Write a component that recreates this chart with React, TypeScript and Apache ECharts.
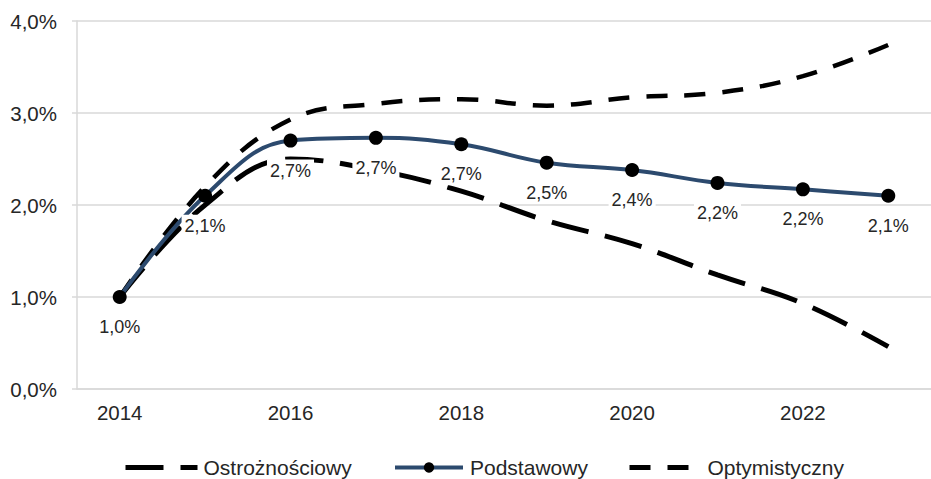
import React, { useEffect, useRef } from "react";
import * as echarts from "echarts";

// Years on the horizontal axis
const years = ["2014", "2015", "2016", "2017", "2018", "2019", "2020", "2021", "2022", "2023"];

// Scenario paths, in percent
const ostroznosciowy = [1.0, 2.0, 2.5, 2.38, 2.15, 1.83, 1.58, 1.24, 0.93, 0.46];
const podstawowy = [1.0, 2.1, 2.7, 2.73, 2.66, 2.46, 2.38, 2.24, 2.17, 2.1];
const optymistyczny = [1.0, 2.2, 2.93, 3.1, 3.15, 3.08, 3.17, 3.22, 3.4, 3.74];

const seriesNames = ["Ostrożnościowy", "Podstawowy", "Optymistyczny"];

const FONT = "'Liberation Sans', Arial, sans-serif";
const TEXT = "#262626";
const GRID_GRAY = "#d9d9d9";
const BASE_BLUE = "#2c4a6e";

const pct = (v: number) => v.toFixed(1).replace(".", ",") + "%";

const legendText = { fontFamily: FONT, fontSize: 21, color: TEXT };

export default function App() {
  const ref = useRef<HTMLDivElement>(null);

  useEffect(() => {
    document.body.style.margin = "0";
    if (!ref.current) return;
    const chart = echarts.init(ref.current, undefined, { renderer: "svg" });
    chart.setOption({
      animation: false,
      textStyle: { fontFamily: FONT, color: TEXT },
      grid: { left: 77, top: 21, width: 867, height: 368 },
      legend: [
        {
          data: [{ name: seriesNames[0], itemStyle: { opacity: 0 } }],
          top: 452,
          left: 118,
          itemWidth: 72,
          itemHeight: 14,
          lineStyle: { width: 5 },
          textStyle: { ...legendText, padding: [0, 0, 0, 1] },
        },
        {
          data: [{ name: seriesNames[1] }],
          top: 452,
          left: 388,
          itemWidth: 68,
          itemHeight: 13,
          lineStyle: { width: 4 },
          textStyle: { ...legendText, padding: [0, 0, 0, 2] },
        },
        {
          data: [{ name: seriesNames[2], itemStyle: { opacity: 0 } }],
          top: 452,
          left: 622,
          itemWidth: 60,
          itemHeight: 14,
          lineStyle: { width: 5 },
          textStyle: { ...legendText, padding: [0, 0, 0, 13] },
        },
      ],
      xAxis: {
        type: "category",
        data: years,
        boundaryGap: true,
        axisLine: { lineStyle: { color: GRID_GRAY, width: 1.5 } },
        axisTick: { alignWithLabel: true, interval: 0, length: 5, lineStyle: { color: GRID_GRAY, width: 1.5 } },
        axisLabel: { interval: 1, margin: 13, fontSize: 20.5, color: TEXT, fontFamily: FONT },
        splitLine: { show: false },
      },
      yAxis: {
        type: "value",
        min: 0,
        max: 4,
        interval: 1,
        axisLine: { show: true, lineStyle: { color: GRID_GRAY, width: 1.5 } },
        axisTick: { show: true, length: 5, lineStyle: { color: GRID_GRAY, width: 1.5 } },
        axisLabel: { margin: 20, fontSize: 20.5, color: TEXT, fontFamily: FONT, formatter: (v: number) => pct(v) },
        splitLine: { lineStyle: { color: GRID_GRAY, width: 1.5 } },
      },
      series: [
        {
          name: seriesNames[0],
          type: "line",
          data: ostroznosciowy,
          smooth: 0.4,
          showSymbol: false,
          symbol: "none",
          color: "#000",
          lineStyle: { color: "#000", width: 5, type: [38, 17], cap: "butt" },
          z: 2,
        },
        {
          name: seriesNames[1],
          type: "line",
          data: podstawowy,
          smooth: 0.4,
          symbol: "circle",
          symbolSize: 14,
          color: "#000",
          itemStyle: { color: "#000" },
          lineStyle: { color: BASE_BLUE, width: 4 },
          label: {
            show: true,
            position: "bottom",
            distance: 12,
            fontSize: 18,
            fontFamily: FONT,
            color: TEXT,
            backgroundColor: "#fff",
            padding: [2, 3],
            formatter: (p: any) => pct(p.value),
          },
          z: 3,
        },
        {
          name: seriesNames[2],
          type: "line",
          data: optymistyczny,
          smooth: 0.4,
          showSymbol: false,
          symbol: "none",
          color: "#000",
          lineStyle: { color: "#000", width: 4.5, type: [21, 17], cap: "butt" },
          z: 2,
        },
      ],
    });
    return () => chart.dispose();
  }, []);

  return <div ref={ref} style={{ width: 931, height: 479 }} />;
}
